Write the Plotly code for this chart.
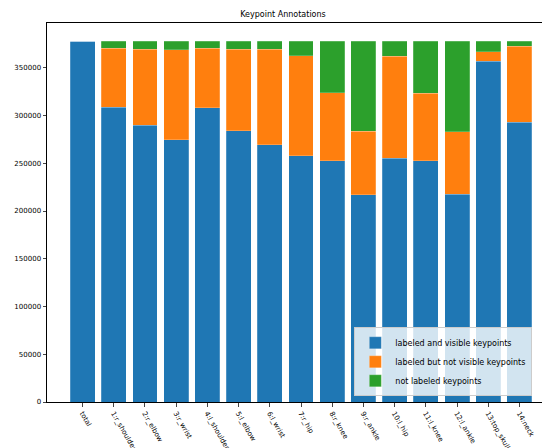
import plotly.graph_objects as go

# keypoint annotation counts
keypoints = ["total", "1:r_shoulder", "2:r_elbow", "3:r_wrist", "4:l_shoulder", "5:l_elbow",
             "6:l_wrist", "7:r_hip", "8:r_knee", "9:r_ankle", "10:l_hip", "11:l_knee",
             "12:l_ankle", "13:top_skull", "14:neck"]
visible = [377800, 308600, 289900, 274500, 308000, 283900, 269300, 257700,
           252500, 216900, 255300, 252500, 217600, 357100, 293000]
not_visible = [0, 61800, 79300, 94500, 62400, 85300, 99900, 105000,
               71100, 66700, 106700, 70700, 65600, 9700, 79400]
not_labeled = [0, 7400, 8600, 8800, 7400, 8600, 8600, 15100,
               54200, 94200, 15800, 54600, 94600, 11000, 5400]

edge = dict(width=0.6, color="rgba(255,255,255,0.35)")
fig = go.Figure()
fig.add_trace(go.Bar(x=keypoints, y=visible, name="labeled and visible keypoints",
                     marker=dict(color="#1f77b4", line=edge)))
fig.add_trace(go.Bar(x=keypoints, y=not_visible, name="labeled but not visible keypoints",
                     marker=dict(color="#ff7f0e", line=edge)))
fig.add_trace(go.Bar(x=keypoints, y=not_labeled, name="not labeled keypoints",
                     marker=dict(color="#2ca02c", line=edge)))

fig.update_layout(
    width=550, height=448,
    barmode="stack", bargap=0.2,
    margin=dict(l=39, r=3, t=15, b=54),
    paper_bgcolor="white", plot_bgcolor="white",
    font=dict(family="DejaVu Sans", size=8, color="black"),
    title=dict(text="Keypoint Annotations", x=0.5, xanchor="center", y=0.992, yanchor="top",
               font=dict(size=8)),
    legend=dict(x=0.605, y=0.015, xanchor="left", yanchor="bottom",
                bgcolor="rgba(255,255,255,0.8)", bordercolor="#cccccc", borderwidth=1,
                font=dict(family="DejaVu Sans", size=8), traceorder="normal", itemwidth=30,
                tracegroupgap=0),
    showlegend=True,
)
fig.update_xaxes(range=[-1.14, 15.14], tickangle=60, ticks="outside", ticklen=3.5,
                 showline=True, linecolor="black", linewidth=1, mirror=True,
                 showgrid=False, tickfont=dict(size=7))
fig.update_yaxes(range=[0, 396900], tickvals=[0, 50000, 100000, 150000, 200000, 250000, 300000, 350000],
                 ticktext=["0", "50000", "100000", "150000", "200000", "250000", "300000", "350000"],
                 ticks="outside", ticklen=3.5, showline=True, linecolor="black", linewidth=1,
                 mirror=True, showgrid=False, zeroline=False, tickfont=dict(size=7))

fig.write_html("out.html")
